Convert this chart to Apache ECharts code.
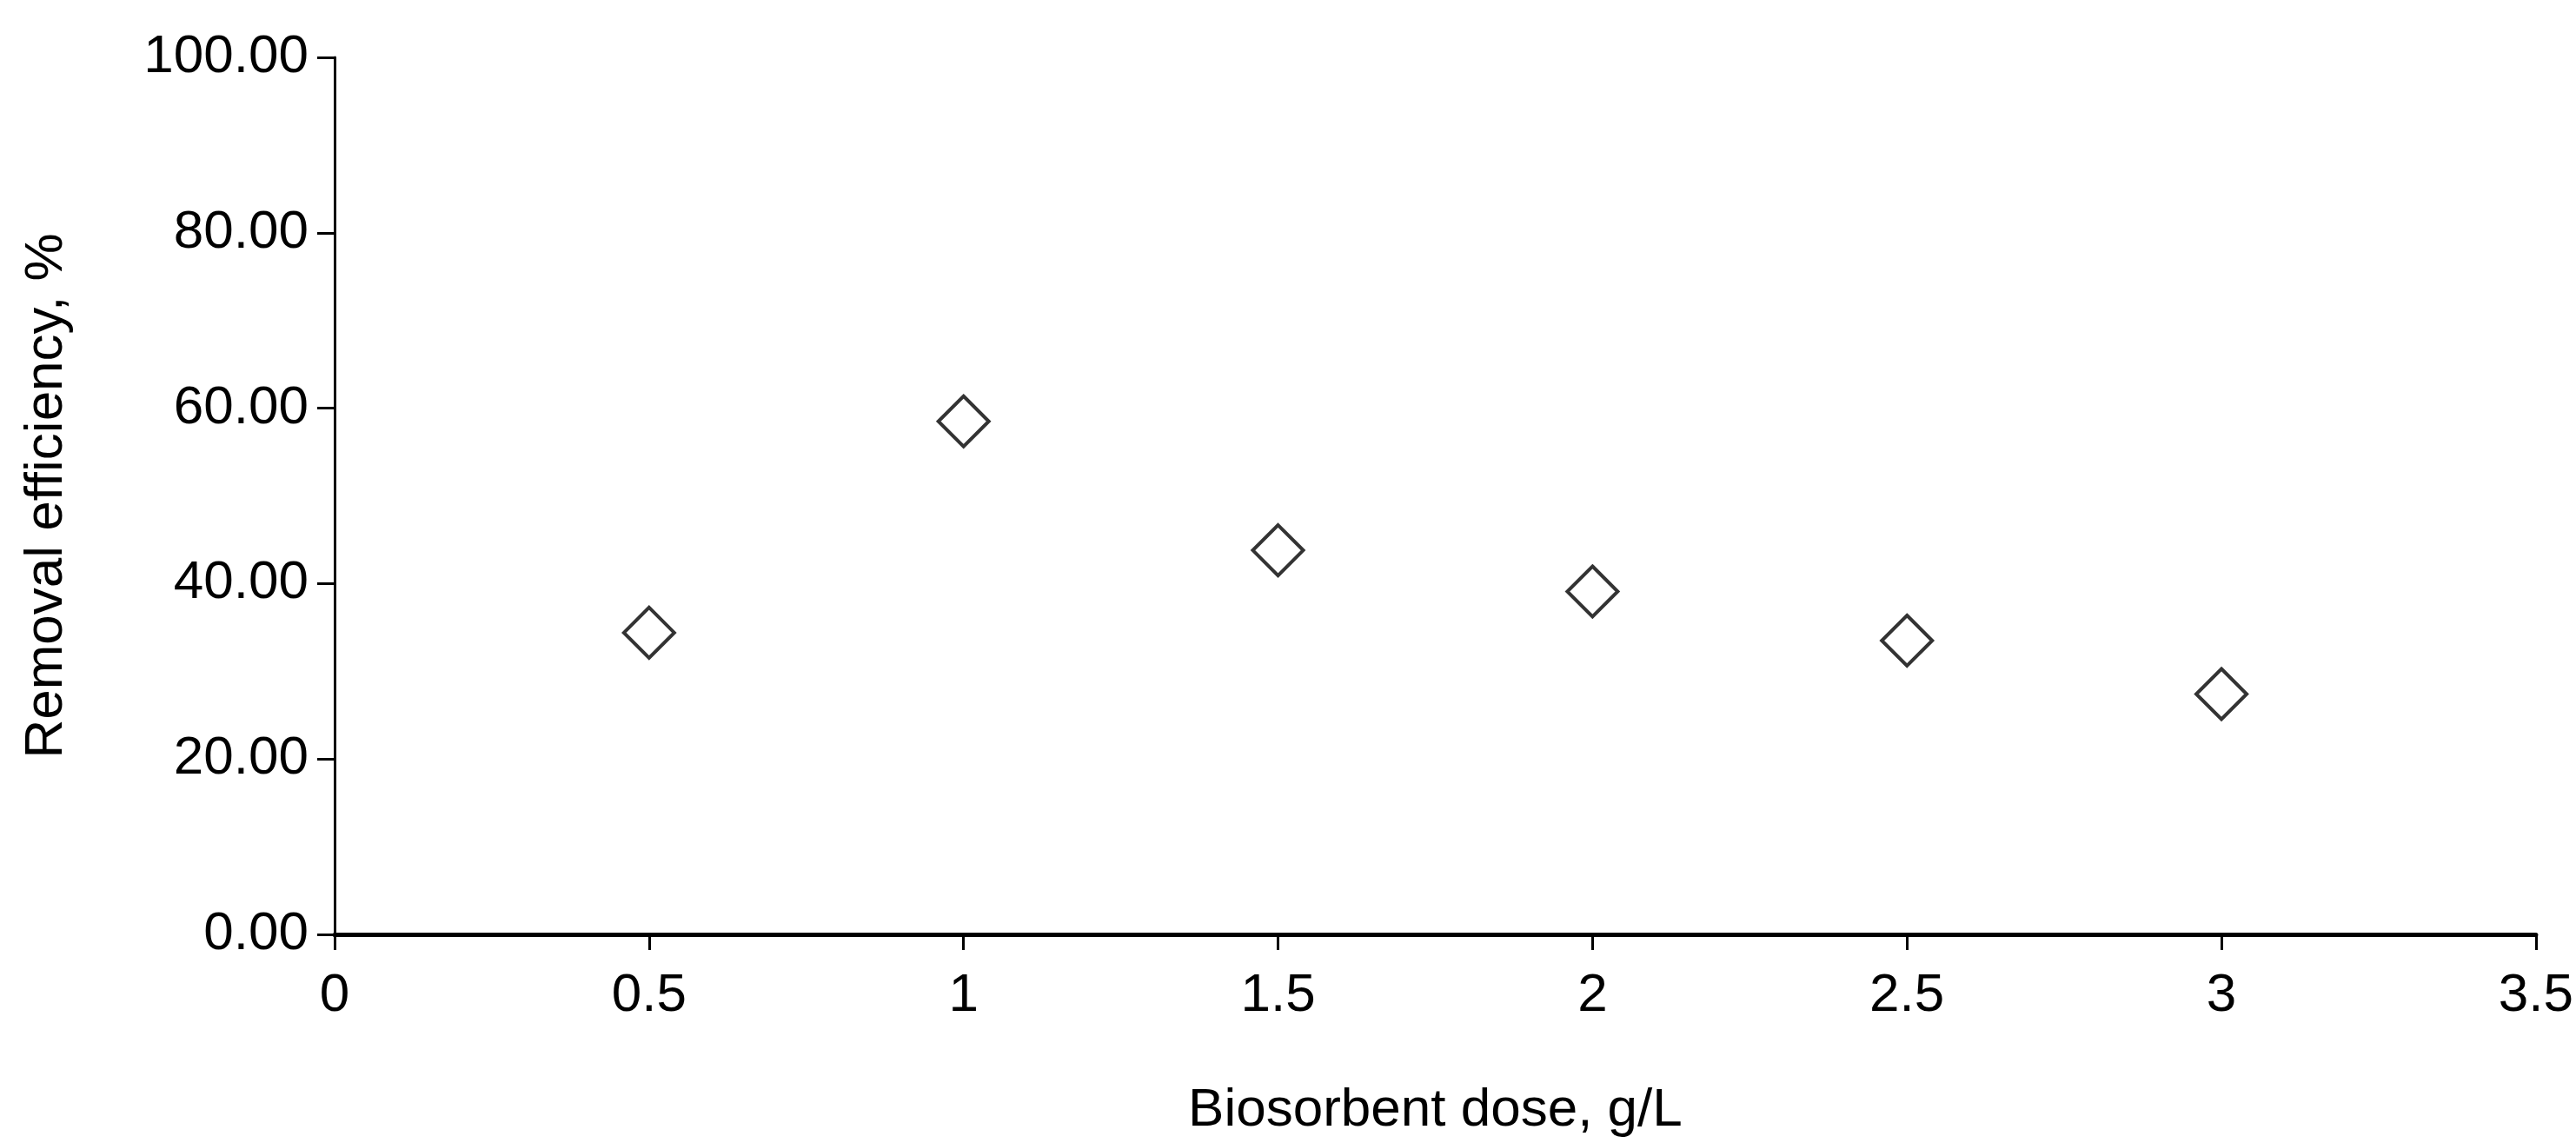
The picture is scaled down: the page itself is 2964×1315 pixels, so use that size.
<!DOCTYPE html>
<html>
<head>
<meta charset="utf-8">
<script src="https://cdn.jsdelivr.net/npm/echarts@6/dist/echarts.min.js"></script>
<style>html,body{margin:0;background:#fff}#chart{width:2964px;height:1315px}</style>
</head>
<body>
<div id="chart"></div>
<script>
var doses = [0.5, 1, 1.5, 2, 2.5, 3];
var efficiency = [34.4, 58.5, 43.8, 39.1, 33.5, 27.4];

var chart = echarts.init(document.getElementById('chart'));
var font = 'Liberation Sans, Arial, sans-serif';
chart.setOption({
    animation: false,
    backgroundColor: '#fff',
    grid: {left: 385, right: 46, top: 66, bottom: 240},
    xAxis: {
        type: 'value', min: 0, max: 3.5, interval: 0.5,
        name: 'Biosorbent dose, g/L', nameLocation: 'middle', nameGap: 172,
        nameTextStyle: {fontFamily: font, fontSize: 62, color: '#000'},
        axisLine: {lineStyle: {color: '#000', width: 5}},
        axisTick: {length: 18, lineStyle: {color: '#000', width: 3}},
        axisLabel: {fontFamily: font, fontSize: 62, color: '#000', margin: 40},
        splitLine: {show: false}
    },
    yAxis: {
        type: 'value', min: 0, max: 100, interval: 20,
        name: 'Removal efficiency, %', nameLocation: 'middle', nameGap: 300,
        nameTextStyle: {fontFamily: font, fontSize: 62, color: '#000'},
        axisLine: {show: true, lineStyle: {color: '#000', width: 3}},
        axisTick: {show: true, length: 20, lineStyle: {color: '#000', width: 3}},
        axisLabel: {fontFamily: font, fontSize: 62, color: '#000', margin: 30,
            formatter: function (v) { return v.toFixed(2); }},
        splitLine: {show: false}
    },
    series: [{
        type: 'scatter',
        data: doses.map(function (d, i) { return [d, efficiency[i]]; }),
        symbol: 'diamond',
        symbolSize: [58, 58],
        itemStyle: {color: '#fff', borderColor: '#000', borderWidth: 4}
    }]
});
</script>
</body>
</html>
